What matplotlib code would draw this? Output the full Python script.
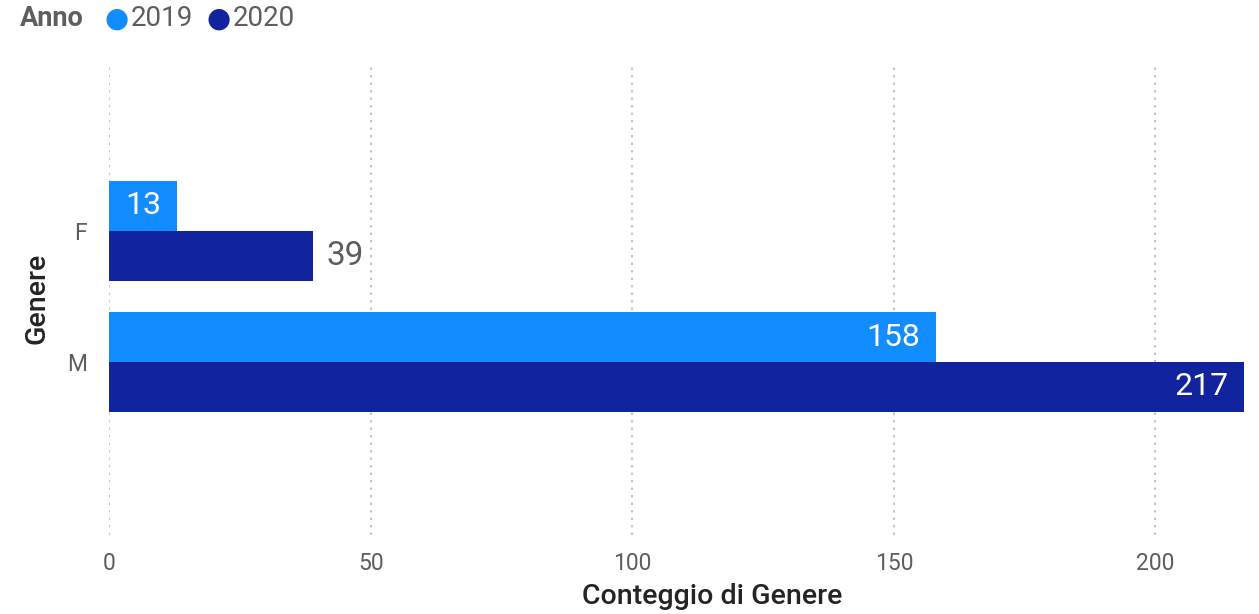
import numpy as np
import matplotlib.pyplot as plt

categories = ["F", "M"]
years = ["2019", "2020"]
counts_2019 = [13, 158]
counts_2020 = [39, 217]
xticks = [0, 50, 100, 150, 200]

colors = {"2019": "#118DFF", "2020": "#12239E"}
text_gray = "#605E5C"
# where each data label sits (inside end of the bar or just outside)
inside_2019 = [True, True]
inside_2020 = [False, True]

plt.rcParams["font.family"] = ["Roboto", "DejaVu Sans"]

W, H = 1259, 614
fig = plt.figure(figsize=(W / 100, H / 100), dpi=100)
left, right, top, bottom = 109, 1247, 67, 535
ax = fig.add_axes([left / W, 1 - bottom / H, (right - left) / W, (bottom - top) / H])

y = np.arange(len(categories))
h = 0.38
bars19 = ax.barh(y - h / 2, counts_2019, height=h, color=colors["2019"])
bars20 = ax.barh(y + h / 2, counts_2020, height=h, color=colors["2020"])

ax.set_xlim(0, 217.5)
ax.set_ylim(2.32, -1.25)
ax.set_xticks(xticks)
ax.set_yticks(y)
ax.set_yticklabels(categories)

for x in xticks:
    ax.axvline(x, color="#C8C8C8", linestyle=(0, (1.2, 2.4)), linewidth=1.5, zorder=0)

for s in ax.spines.values():
    s.set_visible(False)
ax.tick_params(length=0, labelsize=16.5, colors=text_gray, pad=12)
ax.tick_params(axis="y", pad=16)

for bars, vals, inside in [(bars19, counts_2019, inside_2019), (bars20, counts_2020, inside_2020)]:
    for b, v, ins in zip(bars, vals, inside):
        yc = b.get_y() + b.get_height() / 2
        if ins:
            ax.text(v - 3, yc, str(v), ha="right", va="center", color="white", fontsize=23)
        else:
            ax.text(v + 2.5, yc, str(v), ha="left", va="center", color=text_gray, fontsize=24)

ax.set_xlabel("Conteggio di Genere", fontsize=20.5, fontweight="medium", color="#252423", va="center")
ax.xaxis.set_label_coords((712 - left) / (right - left), (bottom - 597) / (bottom - top))
ax.set_ylabel("Genere", fontsize=20.5, fontweight="medium", color="#252423", va="center")
ax.yaxis.set_label_coords((37 - left) / (right - left), (bottom - 298) / (bottom - top))

# legend
ly = 1 - 19 / H
fig.text(20 / W, ly, "Anno", fontsize=19.5, fontweight="bold", color=text_gray, va="center")
for xpos, yr in [(117, "2019"), (219, "2020")]:
    fig.text(xpos / W, ly, "\u25CF", fontsize=20, color=colors[yr], va="center", ha="center")
    fig.text((xpos + 14) / W, ly, yr, fontsize=20, color=text_gray, va="center")

fig.savefig("out.png", dpi=100)
